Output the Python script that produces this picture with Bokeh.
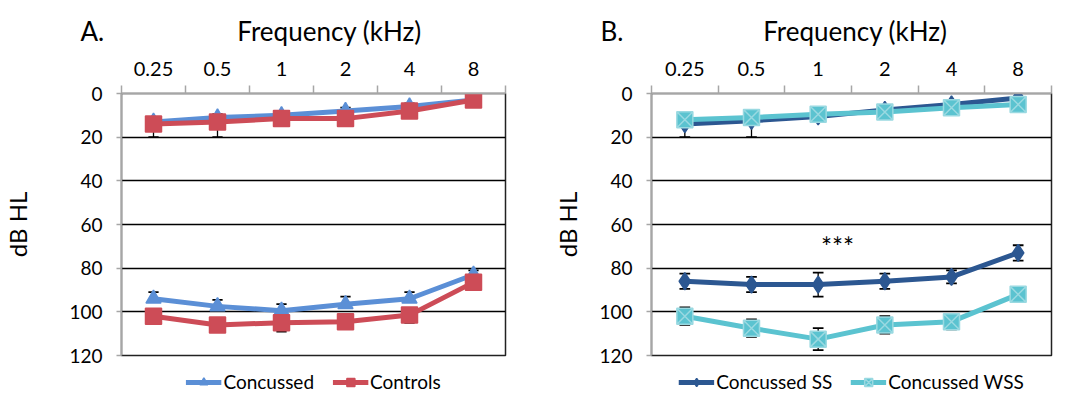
from bokeh.plotting import figure
from bokeh.models import (Range1d, LinearAxis, FixedTicker, ColumnDataSource,
                          Legend, LegendItem, Label, Title)
from bokeh.layouts import row, column
from bokeh.embed import file_html
from bokeh.resources import INLINE

# ---------------- data ----------------
freqs = ["0.25", "0.5", "1", "2", "4", "8"]
y_ticks = [0, 20, 40, 60, 80, 100, 120]

# Panel A (error bars: Concussed drawn toward lower dB, Controls toward higher dB)
concussed_top = [13, 11, 10, 8, 6, 3]
concussed_top_err = [1.5, 1.5, 1.5, 1.5, 1.5, 1.5]
concussed_bot = [94, 97.5, 99.5, 96.5, 94, 83]
concussed_bot_err = [3, 3, 3, 3.5, 3, 2]
controls_top = [14, 13, 11.5, 11.5, 8, 3]
controls_top_err = [6, 7, 3, 3, 3, 2]
controls_bot = [102, 106, 105, 104.5, 101.5, 86.5]
controls_bot_err = [3, 3, 4, 3, 3.5, 2]

# Panel B
ss_top = [14, 12.5, 10.5, 7.5, 5, 2]
ss_top_err = [6, 7.5, 2, 2, 2, 2]
ss_bot = [86, 87.5, 87.5, 86, 84, 73]
ss_bot_err = [3.5, 3.5, 5.5, 3.5, 3, 3.5]
wss_top = [12, 11, 9.5, 8.5, 6.5, 5]
wss_top_err = [1.5, 1.5, 1.5, 1.5, 1.5, 1.5]
wss_bot = [102, 107.5, 112.5, 106, 104.5, 92]
wss_bot_err = [4, 4, 5, 4, 3.5, 2]

FONT = "Lato"
BLACK = "#000000"
GRAY = "#a6a6a6"
CAP = 0.08
NBSP = "\u00a0"

centers = [i + 0.5 for i in range(len(freqs))]
bounds = [float(i) for i in range(len(freqs) + 1)]


def add_series(p, vals, errs, mode, color, marker, size, line_color=None):
    up = [v + e if mode in ("both", "plus") else v for v, e in zip(vals, errs)]
    lo = [v - e if mode in ("both", "minus") else v for v, e in zip(vals, errs)]
    src = ColumnDataSource(dict(x=centers, y=vals, upper=up, lower=lo,
                                xl=[c - CAP for c in centers],
                                xr=[c + CAP for c in centers]))
    p.segment("x", "lower", "x", "upper", source=src, line_color=BLACK, line_width=1.3)
    if mode in ("both", "plus"):
        p.segment("xl", "upper", "xr", "upper", source=src, line_color=BLACK, line_width=1.8)
    if mode in ("both", "minus"):
        p.segment("xl", "lower", "xr", "lower", source=src, line_color=BLACK, line_width=1.8)
    p.line("x", "y", source=src, line_color=color, line_width=5)
    p.scatter("x", "y", source=src, marker=marker, size=size,
              fill_color=color, line_color=line_color or color, line_width=1.5)


def make_panel(letter, gap, width, border_left, border_right, label_standoff,
               letter_dx, series, legend_left):
    p = figure(width=width, height=365, x_range=Range1d(0, 6),
               y_range=Range1d(120, 0), output_backend="svg",
               toolbar_location=None, x_axis_location=None,
               min_border_left=border_left, min_border_right=border_right,
               min_border_top=87, min_border_bottom=10)
    p.title = Title(text=letter + NBSP * gap + "Frequency (kHz)", align="left",
                    offset=letter_dx, text_font=FONT, text_font_size="26px",
                    text_font_style="normal", text_color=BLACK, standoff=24)
    p.outline_line_color = "#222222"
    p.outline_line_width = 1.5
    p.xgrid.visible = False
    p.ygrid.ticker = FixedTicker(ticks=[20, 40, 60, 80, 100, 120])
    p.ygrid.grid_line_color = BLACK
    p.ygrid.grid_line_width = 1.5

    yax = p.yaxis[0]
    yax.ticker = FixedTicker(ticks=y_ticks)
    yax.axis_label = "dB HL"
    yax.axis_label_text_font = FONT
    yax.axis_label_text_font_size = "24px"
    yax.axis_label_text_font_style = "normal"
    yax.axis_label_text_color = BLACK
    yax.axis_label_standoff = label_standoff
    yax.major_label_text_font = FONT
    yax.major_label_text_font_size = "19px"
    yax.major_label_text_color = BLACK
    yax.major_label_standoff = 14
    yax.axis_line_color = GRAY
    yax.axis_line_width = 1.5
    yax.major_tick_line_color = GRAY
    yax.major_tick_line_width = 1.5
    yax.major_tick_out = 5
    yax.major_tick_in = 0
    yax.minor_tick_line_color = None

    xax = LinearAxis(ticker=FixedTicker(ticks=centers, minor_ticks=bounds),
                     major_label_overrides={c: f for c, f in zip(centers, freqs)})
    xax.major_label_text_font = FONT
    xax.major_label_text_font_size = "20px"
    xax.major_label_text_color = BLACK
    xax.major_label_standoff = 10
    xax.axis_line_color = GRAY
    xax.axis_line_width = 1.5
    xax.major_tick_line_color = None
    xax.major_tick_out = 0
    xax.major_tick_in = 0
    xax.minor_tick_line_color = GRAY
    xax.minor_tick_line_width = 1.5
    xax.minor_tick_out = 8
    xax.minor_tick_in = 0
    p.add_layout(xax, "above")

    for name, groups in series:
        for g in groups:
            add_series(p, *g)

    # legend strip below the chart (its renderers lie outside the strip's range)
    lf = figure(width=width, height=29, x_range=Range1d(0, 6), y_range=Range1d(200, 201),
                output_backend="svg", toolbar_location=None,
                x_axis_location=None, y_axis_location=None,
                min_border_left=legend_left, min_border_right=0,
                min_border_top=0, min_border_bottom=0)
    lf.outline_line_color = None
    lf.xgrid.visible = False
    lf.ygrid.visible = False
    for gr in lf.renderers:
        gr.visible = False
    items = []
    for name, groups in series:
        g = groups[0]
        vals, color, marker, size = g[0], g[3], g[4], g[5]
        lc = g[6] if len(g) > 6 else color
        lr = lf.line(x=centers, y=vals, line_color=color, line_width=5)
        sr = lf.scatter(x=centers, y=vals, marker=marker, size=size, fill_color=color,
                        line_color=lc, line_width=1.5)
        items.append(LegendItem(label=name, renderers=[lr, sr]))
    leg = Legend(items=items, orientation="horizontal", location="bottom_center",
                 label_text_font=FONT, label_text_font_size="19px",
                 label_text_color=BLACK, border_line_color=None,
                 background_fill_alpha=0, glyph_width=36, glyph_height=20,
                 spacing=18, padding=2, margin=1, label_standoff=2)
    lf.add_layout(leg, "center")
    return p, lf


pa, la = make_panel("A.", 20, 532, 106, 27, 34, -41, [
    ("Concussed", [(concussed_top, concussed_top_err, "minus", "#5b8fd6", "triangle", 15),
                   (concussed_bot, concussed_bot_err, "minus", "#5b8fd6", "triangle", 15)]),
    ("Controls", [(controls_top, controls_top_err, "plus", "#cd4c57", "square", 16),
                  (controls_bot, controls_bot_err, "plus", "#cd4c57", "square", 16)]),
], 42)

pb, lb = make_panel("B.", 21, 525, 119, 6, 14, -51, [
    ("Concussed SS", [(ss_top, ss_top_err, "plus", "#2c5791", "diamond", 17),
                      (ss_bot, ss_bot_err, "both", "#2c5791", "diamond", 17)]),
    ("Concussed WSS", [(wss_top, wss_top_err, "both", "#5bc3d0", "square_x", 16, "#9ad9e1"),
                       (wss_bot, wss_bot_err, "both", "#5bc3d0", "square_x", 16, "#9ad9e1")]),
], 69)

pb.add_layout(Label(x=freqs.index("1") + 0.79, y=70.5, text="***",
                    text_font=FONT, text_font_size="26px", text_color=BLACK,
                    text_align="center", text_baseline="middle"))

layout = row(column(pa, la), column(pb, lb))
open("out.html", "w").write(file_html(layout, INLINE))
